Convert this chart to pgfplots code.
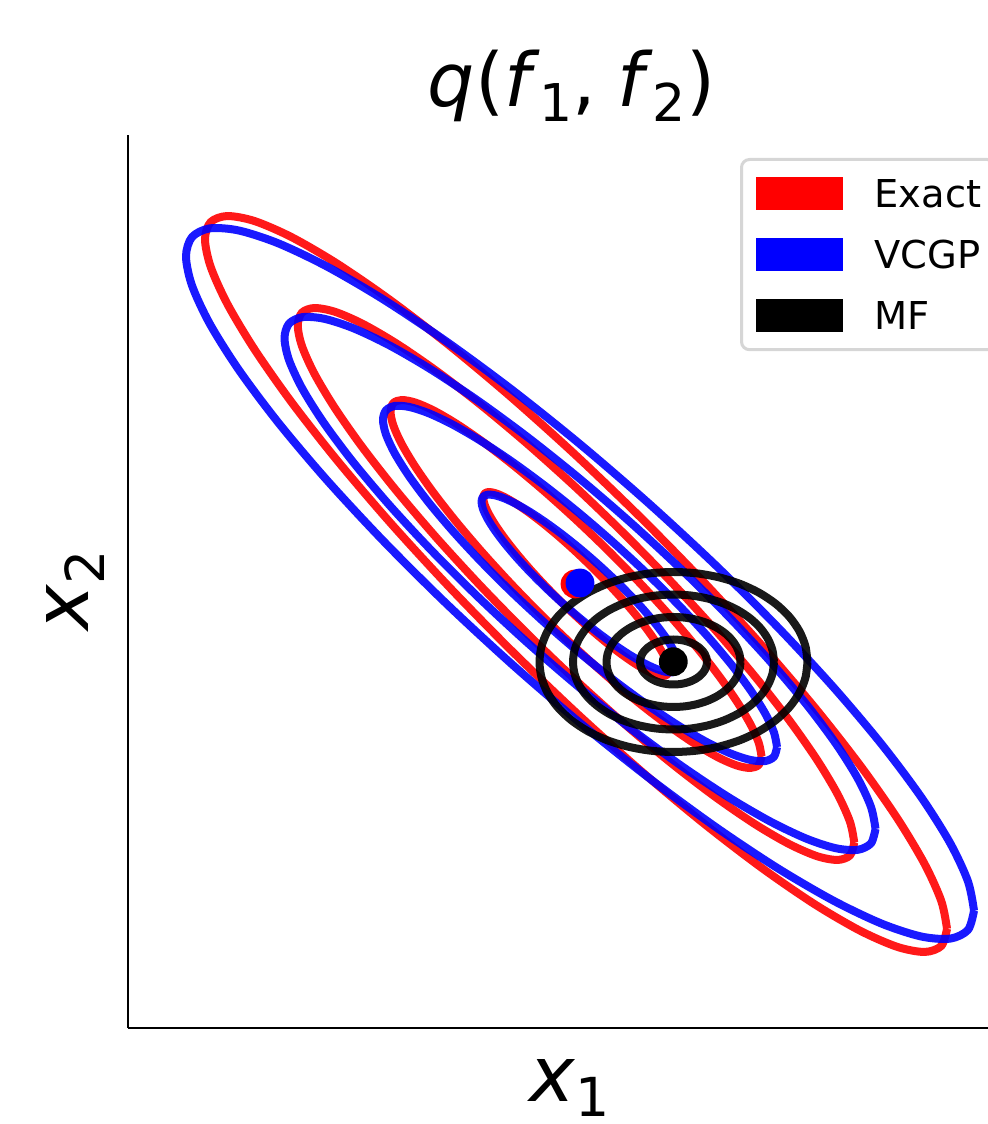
\documentclass[border=0pt]{standalone}
\usepackage{pgfplots}
\usepackage{pgfplotstable}
\usepackage{graphicx}
\usepackage{fontspec}
\setmainfont{DejaVu Sans}
\pgfplotsset{compat=1.18}

% 1-sigma contour offsets (pixels) of each Gaussian; contours k = 1..4 are scaled copies
\pgfplotstableread{
dx dy
92.75 -86.20
91.34 -79.31
87.16 -70.01
80.32 -58.58
71.05 -45.37
59.62 -30.79
46.38 -15.27
31.72 0.72
16.10 16.69
0.00 32.14
-16.10 46.61
-31.72 59.68
-46.38 70.93
-59.62 80.03
-71.05 86.69
-80.32 90.72
-87.16 91.99
-91.34 90.47
-92.75 86.20
-91.34 79.31
-87.16 70.01
-80.32 58.58
-71.05 45.37
-59.62 30.79
-46.38 15.27
-31.72 -0.72
-16.10 -16.69
0.00 -32.14
16.10 -46.61
31.72 -59.68
46.38 -70.93
59.62 -80.03
71.05 -86.69
80.32 -90.72
87.16 -91.99
91.34 -90.47
92.75 -86.20
}\redunit

\pgfplotstableread{
dx dy
98.50 -81.79
97.00 -74.50
92.56 -64.94
85.30 -53.41
75.45 -40.25
63.32 -25.89
49.25 -10.73
33.69 4.77
17.10 20.11
0.00 34.84
-17.10 48.51
-33.69 60.71
-49.25 71.07
-63.32 79.27
-75.45 85.05
-85.30 88.25
-92.56 88.78
-97.00 86.60
-98.50 81.79
-97.00 74.50
-92.56 64.94
-85.30 53.41
-75.45 40.25
-63.32 25.89
-49.25 10.73
-33.69 -4.77
-17.10 -20.11
0.00 -34.84
17.10 -48.51
33.69 -60.71
49.25 -71.07
63.32 -79.27
75.45 -85.05
85.30 -88.25
92.56 -88.78
97.00 -86.60
98.50 -81.79
}\blueunit

\pgfplotstableread{
dx dy
33.50 0.00
32.99 3.91
31.48 7.70
29.01 11.25
25.66 14.46
21.53 17.24
16.75 19.49
11.46 21.14
5.82 22.16
0.00 22.50
-5.82 22.16
-11.46 21.14
-16.75 19.49
-21.53 17.24
-25.66 14.46
-29.01 11.25
-31.48 7.70
-32.99 3.91
-33.50 0.00
-32.99 -3.91
-31.48 -7.70
-29.01 -11.25
-25.66 -14.46
-21.53 -17.24
-16.75 -19.49
-11.46 -21.14
-5.82 -22.16
0.00 -22.50
5.82 -22.16
11.46 -21.14
16.75 -19.49
21.53 -17.24
25.66 -14.46
29.01 -11.25
31.48 -7.70
32.99 -3.91
33.50 0.00
}\blackunit

\newcommand{\sub}[1]{\raisebox{-0.2em}{\scalebox{0.7}{#1}}}
% #1 colour, #2 table, #3 centre x, #4 centre y, #5 level k
\newcommand{\contour}[5]{%
  \addplot[draw=#1, draw opacity=0.9, line width=2pt, smooth, line join=round, forget plot]
    table[x expr={#3+#5*\thisrow{dx}}, y expr={#4+#5*\thisrow{dy}}] {#2};}

\begin{document}
\begin{tikzpicture}
\begin{axis}[
  scale only axis,
  width=222pt, height=223.25pt,
  xmin=128, xmax=1016, ymin=96, ymax=989,
  axis x line=bottom, axis y line=left,
  axis line style={-, line width=0.65pt, black},
  xtick=\empty, ytick=\empty,
  clip=false,
  title={\textit{q}(\textit{f}\sub{1},\hspace{0.28em}\textit{f}\sub{2})},
  title style={at={(axis description cs:0.4994,1.0314)}, anchor=base, yshift=-6pt, font=\fontsize{18.6}{22}\selectfont},
  xlabel={\textit{x}\sub{1}},
  xlabel style={at={(axis description cs:0.4977,-0.0820)}, anchor=base, font=\fontsize{19.2}{23}\selectfont},
  ylabel={\textit{x}\sub{2}},
  ylabel style={at={(axis description cs:-0.0440,0.4905)}, anchor=base, font=\fontsize{19.2}{23}\selectfont},
  legend image code/.code={\fill[sharp corners,#1] (0pt,-4.125pt) rectangle (21.75pt,4.125pt);},
  legend cell align=left,
  legend style={
    at={(axis cs:740,966)}, anchor=north west,
    draw={rgb,255:red,214;green,214;blue,214}, line width=0.75pt, rounded corners=2pt,
    fill=white,
    font=\fontsize{9.6}{11.5}\selectfont,
    inner xsep=3.5pt, inner ysep=4.4pt,
    row sep=7pt,
    nodes={inner sep=0pt, text height=7.625pt, text depth=0.625pt},
    /tikz/every odd column/.append style={column sep=8pt},
  },
]
\addlegendimage{fill=red, draw=none}
\addlegendentry{Exact}
\addlegendimage{fill=blue, draw=none}
\addlegendentry{VCGP}
\addlegendimage{fill=black, draw=none}
\addlegendentry{MF}

% Exact (red)
\contour{red}{\redunit}{576}{540}{1}
\contour{red}{\redunit}{576}{540}{2}
\contour{red}{\redunit}{576}{540}{3}
\contour{red}{\redunit}{576}{540}{4}
% VCGP (blue)
\contour{blue}{\blueunit}{580}{540.5}{1}
\contour{blue}{\blueunit}{580}{540.5}{2}
\contour{blue}{\blueunit}{580}{540.5}{3}
\contour{blue}{\blueunit}{580}{540.5}{4}
% MF (black)
\contour{black}{\blackunit}{673.5}{462}{1}
\contour{black}{\blackunit}{673.5}{462}{2}
\contour{black}{\blackunit}{673.5}{462}{3}
\contour{black}{\blackunit}{673.5}{462}{4}

% means
\addplot[only marks, mark=*, mark size=3.4pt, color=red, forget plot] coordinates {(575,540)};
\addplot[only marks, mark=*, mark size=3.4pt, color=blue, forget plot] coordinates {(580,541)};
\addplot[only marks, mark=*, mark size=3.4pt, color=black, forget plot] coordinates {(673.3,462.3)};

\coordinate (bbl) at (axis cs:0,0);
\coordinate (btr) at (axis cs:987,1124);
\end{axis}
\pgfresetboundingbox
\path[use as bounding box] (bbl) rectangle (btr);
\end{tikzpicture}
\end{document}
